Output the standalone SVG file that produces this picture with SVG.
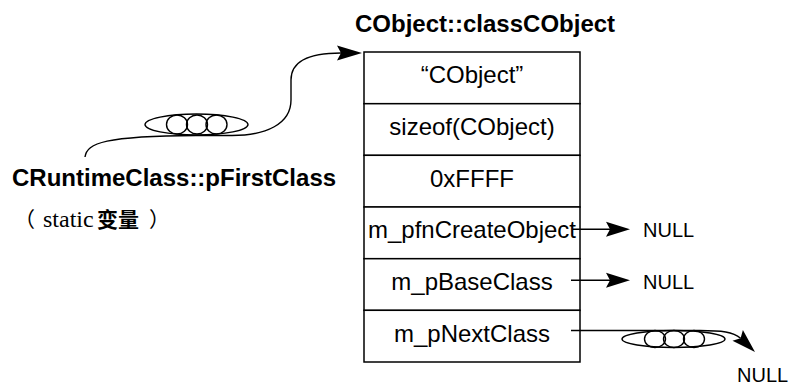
<svg xmlns="http://www.w3.org/2000/svg" width="789" height="385" viewBox="0 0 789 385">
<style>
  .bg { fill: #ffffff; }
  .cell { fill: #ffffff; stroke: #000000; stroke-width: 1.5; }
  .field { font-family: "Liberation Sans", Arial, sans-serif; font-size: 24px; fill: #000000; text-anchor: middle; }
  .bold { font-family: "Liberation Sans", Arial, sans-serif; font-size: 24px; font-weight: bold; fill: #000000; }
  .null { font-family: "Liberation Sans", Arial, sans-serif; font-size: 20px; fill: #000000; }
  .wire { fill: none; stroke: #000000; stroke-width: 1.4; }
  .head { fill: #000000; stroke: none; }
</style>
<rect class="bg" x="0" y="0" width="789" height="385"/>

<g id="classCObject">
  <text class="bold" x="355" y="32">CObject::classCObject</text>
  <g id="field-name">
    <rect class="cell" x="364" y="52" width="216" height="51.7"/>
    <text class="field" x="472" y="83">“CObject”</text>
  </g>
  <g id="field-size">
    <rect class="cell" x="364" y="103.7" width="216" height="51.7"/>
    <text class="field" x="472" y="135">sizeof(CObject)</text>
  </g>
  <g id="field-schema">
    <rect class="cell" x="364" y="155.3" width="216" height="51.7"/>
    <text class="field" x="472" y="187">0xFFFF</text>
  </g>
  <g id="field-create">
    <rect class="cell" x="364" y="207" width="216" height="51.7"/>
    <text class="field" x="472" y="238">m_pfnCreateObject</text>
  </g>
  <g id="field-base">
    <rect class="cell" x="364" y="258.7" width="216" height="51.7"/>
    <text class="field" x="472" y="290">m_pBaseClass</text>
  </g>
  <g id="field-next">
    <rect class="cell" x="364" y="310.3" width="216" height="51.7"/>
    <text class="field" x="472" y="342">m_pNextClass</text>
  </g>
</g>

<g id="pFirstClass">
  <text class="bold" x="12" y="186">CRuntimeClass::pFirstClass</text>
  <text x="15" y="227" font-family="'Liberation Serif', 'Noto Sans CJK SC', serif" font-size="21" fill="#000"><tspan x="14">（</tspan><tspan x="43" font-size="24">static </tspan><tspan x="97" font-weight="bold">变量</tspan><tspan x="149">）</tspan></text>
</g>

<g id="null-create"><text class="null" x="643" y="237">NULL</text></g>
<g id="null-base"><text class="null" x="643" y="289">NULL</text></g>
<g id="null-next"><text class="null" x="737" y="382">NULL</text></g>

<g id="connectors">
  <!-- pFirstClass -> classCObject (coiled) -->
  <path class="wire" d="M85,157 C87,143 105,136 196,135.5"/>
  <ellipse class="wire" cx="196.5" cy="124.5" rx="51.5" ry="10.5"/>
  <ellipse class="wire" cx="177" cy="124.5" rx="10.5" ry="9.5"/>
  <ellipse class="wire" cx="197" cy="124.5" rx="10.5" ry="9.5"/>
  <ellipse class="wire" cx="216.5" cy="124.5" rx="10.5" ry="9.5"/>
  <path class="wire" d="M196,135.5 L232,135.5 C266,135.5 291,124 291,100 L291,80 C291,63 305,53 341,53"/>
  <polygon class="head" points="362,53 337,45.5 341,53 337,60.5"/>

  <!-- m_pfnCreateObject -> NULL -->
  <path class="wire" d="M573,229.3 L610,229.3"/>
  <polygon class="head" points="630,229.3 606,221.8 610,229.3 606,236.8"/>

  <!-- m_pBaseClass -> NULL -->
  <path class="wire" d="M571,280.3 L610,280.3"/>
  <polygon class="head" points="630,280.3 606,272.8 610,280.3 606,287.8"/>

  <!-- m_pNextClass -> NULL (coiled) -->
  <path class="wire" d="M571,330.5 L674,330.5"/>
  <ellipse class="wire" cx="673.5" cy="339" rx="51.5" ry="8.5"/>
  <ellipse class="wire" cx="655" cy="339" rx="10.5" ry="8.5"/>
  <ellipse class="wire" cx="674" cy="339" rx="10.5" ry="8.5"/>
  <ellipse class="wire" cx="694" cy="339" rx="10.5" ry="8.5"/>
  <path class="wire" d="M674,330.5 L700,330.5 C722,330.5 733,332 740.6,338.2"/>
  <polygon class="head" points="755,352 742.9,330 740.6,338.2 732.5,340.8"/>
</g>
</svg>
